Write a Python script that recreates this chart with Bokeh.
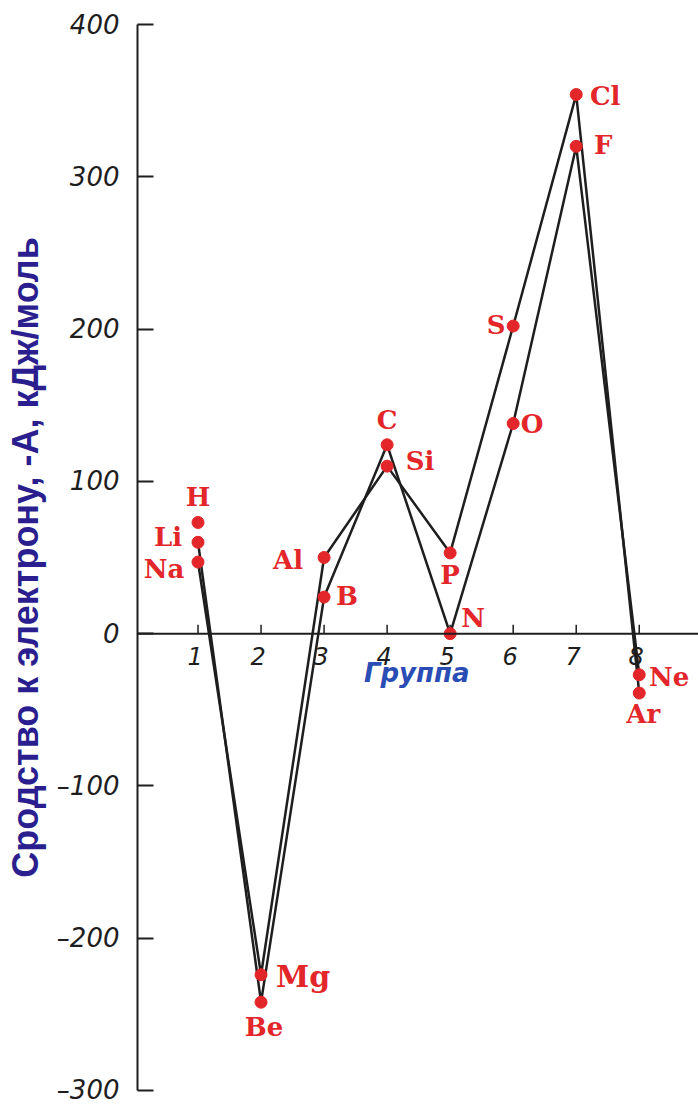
import math
from bokeh.plotting import figure
from bokeh.models import Range1d, FixedTicker, Span, ColumnDataSource
from bokeh.core.properties import value
from bokeh.embed import file_html
from bokeh.resources import INLINE

# ---- data ----
elements = ["H", "Li", "Na", "Be", "Mg", "B", "Al", "C", "Si", "N", "P", "O", "S", "F", "Cl", "Ne", "Ar"]
groups = [1, 1, 1, 2, 2, 3, 3, 4, 4, 5, 5, 6, 6, 7, 7, 8, 8]
affinity = [73, 60, 47, -242, -224, 24, 50, 124, 110, 0, 53, 138, 202, 320, 354, -27, -39]

period2 = ["Li", "Be", "B", "C", "N", "O", "F", "Ne"]
period3 = ["Na", "Mg", "Al", "Si", "P", "S", "Cl", "Ar"]

y_ticks = [-300, -200, -100, 0, 100, 200, 300, 400]
y_tick_labels = ["\u2013300", "\u2013200", "\u2013100", "0", "100", "200", "300", "400"]
x_ticks = [1, 2, 3, 4, 5, 6, 7, 8]
x_tick_labels = ["1", "2", "3", "4", "5", "6", "7", "8"]

y_title = "Сродство к электрону, -A, кДж/моль"
x_title = "Группа"

# ---- label placement (screen pixel offsets from each point) and sizes ----
label_dx = [0, -30, -34, 3, 42, 23, -36, 0, 33, 23, 0, 19, -17, 27, 29, 30, 4]
label_dy = [-25, -5, 7, 25, 2, -1, 2, -25, -5, -16, 22, 1, -1, -1, 1, 2, 21]
label_size = ["26px"] * 4 + ["30px"] + ["26px"] * 12

RED = "#e3262a"
INK = "#1e1e1e"

lookup = dict(zip(elements, zip(groups, affinity)))
p2x = [lookup[e][0] for e in period2]
p2y = [lookup[e][1] for e in period2]
p3x = [lookup[e][0] for e in period3]
p3y = [lookup[e][1] for e in period3]

p = figure(width=698, height=1104,
           x_range=Range1d(0.04, 8.94), y_range=Range1d(-300, 400),
           x_axis_location=None, y_axis_location="left",
           toolbar_location=None, output_backend="svg",
           min_border_left=137, min_border_right=0,
           min_border_top=24, min_border_bottom=14)
p.xgrid.visible = False
p.ygrid.visible = False
p.outline_line_color = None
p.background_fill_color = "white"
p.border_fill_color = "white"

ya = p.yaxis[0]
ya.ticker = FixedTicker(ticks=y_ticks)
ya.major_label_overrides = {t: l for t, l in zip(y_ticks, y_tick_labels)}
ya.major_tick_in = 16
ya.major_tick_out = 0
ya.minor_tick_in = 0
ya.minor_tick_out = 0
ya.axis_line_width = 2
ya.axis_line_color = INK
ya.major_tick_line_width = 2
ya.major_tick_line_color = INK
ya.major_label_standoff = 18
ya.major_label_text_font = "DejaVu Sans"
ya.major_label_text_font_style = "italic"
ya.major_label_text_font_size = "26px"
ya.major_label_text_color = INK
ya.axis_label = y_title
ya.axis_label_standoff = 8
ya.axis_label_text_font = "Liberation Sans"
ya.axis_label_text_font_style = "bold"
ya.axis_label_text_font_size = "36px"
ya.axis_label_text_color = "#2b1f8f"

# horizontal axis drawn at zero
p.add_layout(Span(location=0, dimension="width", line_color=INK, line_width=2))
p.ray(x=x_ticks, y=[0] * len(x_ticks), length=9, length_units="screen",
      angle=math.pi / 2, line_color=INK, line_width=1.5)
p.text(x=x_ticks, y=[0] * len(x_ticks), text=x_tick_labels, x_offset=-3, y_offset=13,
       text_align="center", text_baseline="top", text_font=value("DejaVu Sans"),
       text_font_style="italic", text_font_size="24px", text_color=INK)
p.text(x=[4.47], y=[0], text=[x_title], y_offset=39,
       text_align="center", text_baseline="middle", text_font=value("DejaVu Sans"),
       text_font_style="bold italic", text_font_size="26px", text_color="#2a4db5")

# series lines
p.line(p2x, p2y, line_color=INK, line_width=2.5)
p.line(p3x, p3y, line_color=INK, line_width=2.5)

src = ColumnDataSource(dict(x=groups, y=affinity, name=elements, dx=label_dx, dy=label_dy,
                            fs=label_size))
p.scatter("x", "y", source=src, size=12, fill_color=RED, line_color=RED)
p.text("x", "y", text="name", x_offset="dx", y_offset="dy", source=src,
       text_align="center", text_baseline="middle", text_font=value("DejaVu Serif"),
       text_font_style="bold", text_font_size="fs", text_color=RED)

open("out.html", "w").write(file_html(p, INLINE))
